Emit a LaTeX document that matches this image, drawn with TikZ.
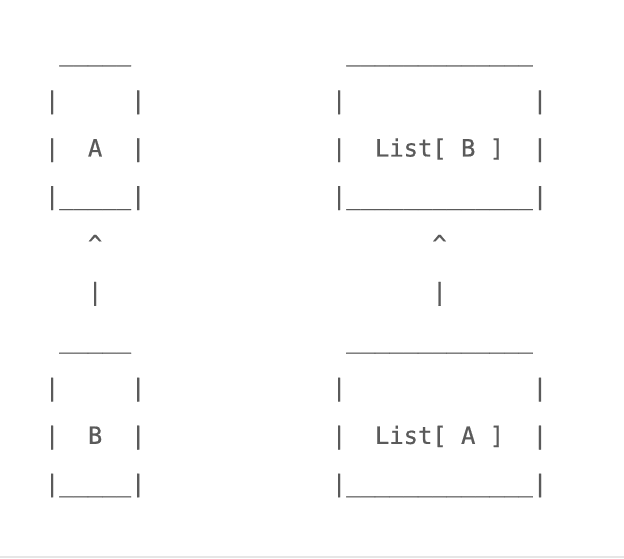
\documentclass[tikz,border=0pt]{standalone}
\usepackage{fontspec}
\setmonofont[FakeBold=0.6]{DejaVu Sans Mono}
\definecolor{ink}{HTML}{5A5A5A}
\definecolor{rulegray}{HTML}{E6E6E6}
\begin{document}
\begin{tikzpicture}[x=1pt,y=1pt,
  txt/.style={anchor=base west, inner sep=0pt, outer sep=0pt, text=ink,
    font=\ttfamily\fontsize{23.84pt}{28pt}\selectfont}]
\useasboundingbox (0,0) rectangle (624,558);
\fill[rulegray] (0,0) rectangle (624,2);
% ---- left upper box (A)
\node[txt] (aTop)   at (59.25,497.3) {\_\_\_\_\_};
\node[txt] (aL1)    at (44.9,449.4)  {|};
\node[txt] (aR1)    at (131.0,449.4) {|};
\node[txt] (aL2)    at (44.9,401.5)  {|};
\node[txt] (aText)  at (87.95,401.5) {A};
\node[txt] (aR2)    at (131.0,401.5) {|};
\node[txt] (aBot)   at (44.9,353.6)  {|\_\_\_\_\_|};
% ---- right upper box (List[ B ])
\node[txt] (lbTop)  at (346.25,497.3) {\_\_\_\_\_\_\_\_\_\_\_\_\_};
\node[txt] (lbL1)   at (331.9,449.4)  {|};
\node[txt] (lbR1)   at (532.8,449.4)  {|};
\node[txt] (lbL2)   at (331.9,401.5)  {|};
\node[txt] (lbText) at (374.95,401.5) {List[ B ]};
\node[txt] (lbR2)   at (532.8,401.5)  {|};
\node[txt] (lbBot)  at (331.9,353.6)  {|\_\_\_\_\_\_\_\_\_\_\_\_\_|};
% ---- arrows
\node[txt] (arrLhead) at (87.95,305.7)  {\^{}};
\node[txt] (arrLtail) at (87.95,257.8)  {|};
\node[txt] (arrRhead) at (432.35,305.7) {\^{}};
\node[txt] (arrRtail) at (432.35,257.8) {|};
% ---- left lower box (B)
\node[txt] (bTop)   at (59.25,209.9) {\_\_\_\_\_};
\node[txt] (bL1)    at (44.9,162.0)  {|};
\node[txt] (bR1)    at (131.0,162.0) {|};
\node[txt] (bL2)    at (44.9,114.1)  {|};
\node[txt] (bText)  at (87.95,114.1) {B};
\node[txt] (bR2)    at (131.0,114.1) {|};
\node[txt] (bBot)   at (44.9,66.2)   {|\_\_\_\_\_|};
% ---- right lower box (List[ A ])
\node[txt] (laTop)  at (346.25,209.9) {\_\_\_\_\_\_\_\_\_\_\_\_\_};
\node[txt] (laL1)   at (331.9,162.0)  {|};
\node[txt] (laR1)   at (532.8,162.0)  {|};
\node[txt] (laL2)   at (331.9,114.1)  {|};
\node[txt] (laText) at (374.95,114.1) {List[ A ]};
\node[txt] (laR2)   at (532.8,114.1)  {|};
\node[txt] (laBot)  at (331.9,66.2)   {|\_\_\_\_\_\_\_\_\_\_\_\_\_|};
\end{tikzpicture}
\end{document}
